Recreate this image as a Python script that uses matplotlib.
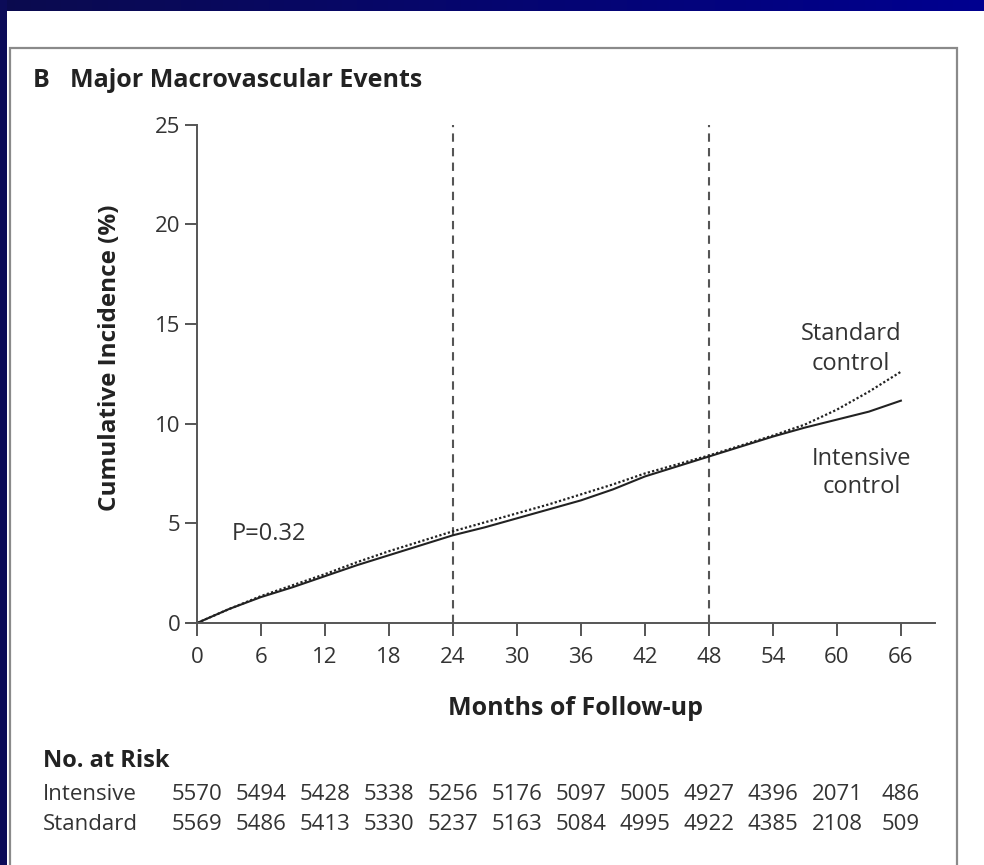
# Kaplan-Meier style cumulative incidence plot: major macrovascular events
import numpy as np
import matplotlib.pyplot as plt
from matplotlib.patches import Rectangle
from matplotlib.colors import LinearSegmentedColormap
from matplotlib import transforms

plt.rcParams["font.family"] = ["Open Sans", "DejaVu Sans"]

# --- data ---
months = [0, 3, 6, 9, 12, 15, 18, 21, 24, 27, 30, 33, 36, 39, 42, 45, 48, 51, 54, 57, 60, 63, 66]
intensive = [0, 0.7, 1.3, 1.8, 2.35, 2.9, 3.4, 3.9, 4.4, 4.8, 5.25, 5.7, 6.15, 6.7, 7.35,
             7.85, 8.35, 8.85, 9.35, 9.8, 10.2, 10.6, 11.15]
standard = [0, 0.7, 1.35, 1.9, 2.45, 3.05, 3.6, 4.1, 4.6, 5.05, 5.5, 5.95, 6.45, 6.95, 7.5,
            7.95, 8.4, 8.9, 9.4, 9.95, 10.7, 11.6, 12.6]

x_ticks = [0, 6, 12, 18, 24, 30, 36, 42, 48, 54, 60, 66]
y_ticks = [0, 5, 10, 15, 20, 25]
landmarks = [24, 48]

risk_intensive = [5570, 5494, 5428, 5338, 5256, 5176, 5097, 5005, 4927, 4396, 2071, 486]
risk_standard = [5569, 5486, 5413, 5330, 5237, 5163, 5084, 4995, 4922, 4385, 2108, 509]

W, H = 984, 865
def fx(px):
    return px / W
def fy(py):
    return 1 - py / H

fig = plt.figure(figsize=(W / 100, H / 100), dpi=100)
fig.patch.set_facecolor("white")

# blue slide frame
bg = fig.add_axes([0, fy(11), 1, 11 / H])
bg.axis("off")
cmap = LinearSegmentedColormap.from_list("navy", ["#0b0b4e", "#000090"])
bg.imshow(np.linspace(0, 1, 256)[None, :], aspect="auto", cmap=cmap, extent=[0, 1, 0, 1])
fig.patches.append(Rectangle((0, 0), fx(7), 1, transform=fig.transFigure,
                             facecolor="#0b0b58", edgecolor="none"))
# grey panel border
fig.patches.append(Rectangle((fx(10), -0.01), fx(957) - fx(10), fy(48) + 0.01,
                             transform=fig.transFigure, fill=False,
                             edgecolor="#8a8a8a", lw=1.6))

# --- main axes ---
ax = fig.add_axes([fx(187), 1 - 623 / H, fx(935) - fx(187), 498.5 / H])
ax.set_facecolor("none")
ax.set_xlim(-0.94, 69.2)
ax.set_ylim(0, 25)
for s in ["top", "right"]:
    ax.spines[s].set_visible(False)
ax.spines["left"].set_position(("data", 0))
for s in ["left", "bottom"]:
    ax.spines[s].set_color("#555555")
    ax.spines[s].set_linewidth(1.4)

ax.set_xticks(x_ticks)
ax.set_yticks(y_ticks)
ax.tick_params(direction="out", length=9, width=1.4, color="#555555",
               labelcolor="#333333", labelsize=16)
ax.tick_params(axis="x", pad=8)
ax.tick_params(axis="y", pad=3)

ax.vlines(landmarks, 0, 25, colors="#555555", linestyles=(0, (4, 3)), lw=1.5)

ax.plot(months, standard, color="#222222", lw=1.6, linestyle=(0, (1, 1)))
ax.plot(months, intensive, color="#222222", lw=1.5)

ax.text(3.28, 4.15, "P=0.32", fontsize=17, color="#333333", va="baseline")
ax.text(61.3, 14.19, "Standard", fontsize=17, color="#333333", ha="center", va="baseline")
ax.text(61.3, 12.69, "control", fontsize=17, color="#333333", ha="center", va="baseline")
ax.text(62.3, 7.92, "Intensive", fontsize=17, color="#333333", ha="center", va="baseline")
ax.text(62.3, 6.52, "control", fontsize=17, color="#333333", ha="center", va="baseline")

# --- titles and labels ---
fig.text(fx(33), fy(87), "B", fontsize=18, fontweight="bold", color="#222222", va="baseline")
fig.text(fx(70), fy(87), "Major Macrovascular Events", fontsize=18, fontweight="bold",
         color="#222222", va="baseline")
fig.text(fx(110), fy(358), "Cumulative Incidence (%)", fontsize=17.5, fontweight="bold",
         color="#222222", rotation=90, ha="center", va="center")
fig.text(fx(575), fy(715), "Months of Follow-up", fontsize=18, fontweight="bold",
         color="#222222", ha="center", va="baseline")

# --- number at risk table ---
fig.text(fx(43), fy(767), "No. at Risk", fontsize=17, fontweight="bold",
         color="#222222", va="baseline")
fig.text(fx(43), fy(800), "Intensive", fontsize=16, color="#333333", va="baseline")
fig.text(fx(43), fy(830), "Standard", fontsize=16, color="#333333", va="baseline")
trans = transforms.blended_transform_factory(ax.transData, fig.transFigure)
for m, a, b in zip(x_ticks, risk_intensive, risk_standard):
    ax.text(m, fy(800), str(a), transform=trans, fontsize=16, color="#333333",
            ha="center", va="baseline", clip_on=False)
    ax.text(m, fy(830), str(b), transform=trans, fontsize=16, color="#333333",
            ha="center", va="baseline", clip_on=False)

fig.savefig("out.png", dpi=100)
